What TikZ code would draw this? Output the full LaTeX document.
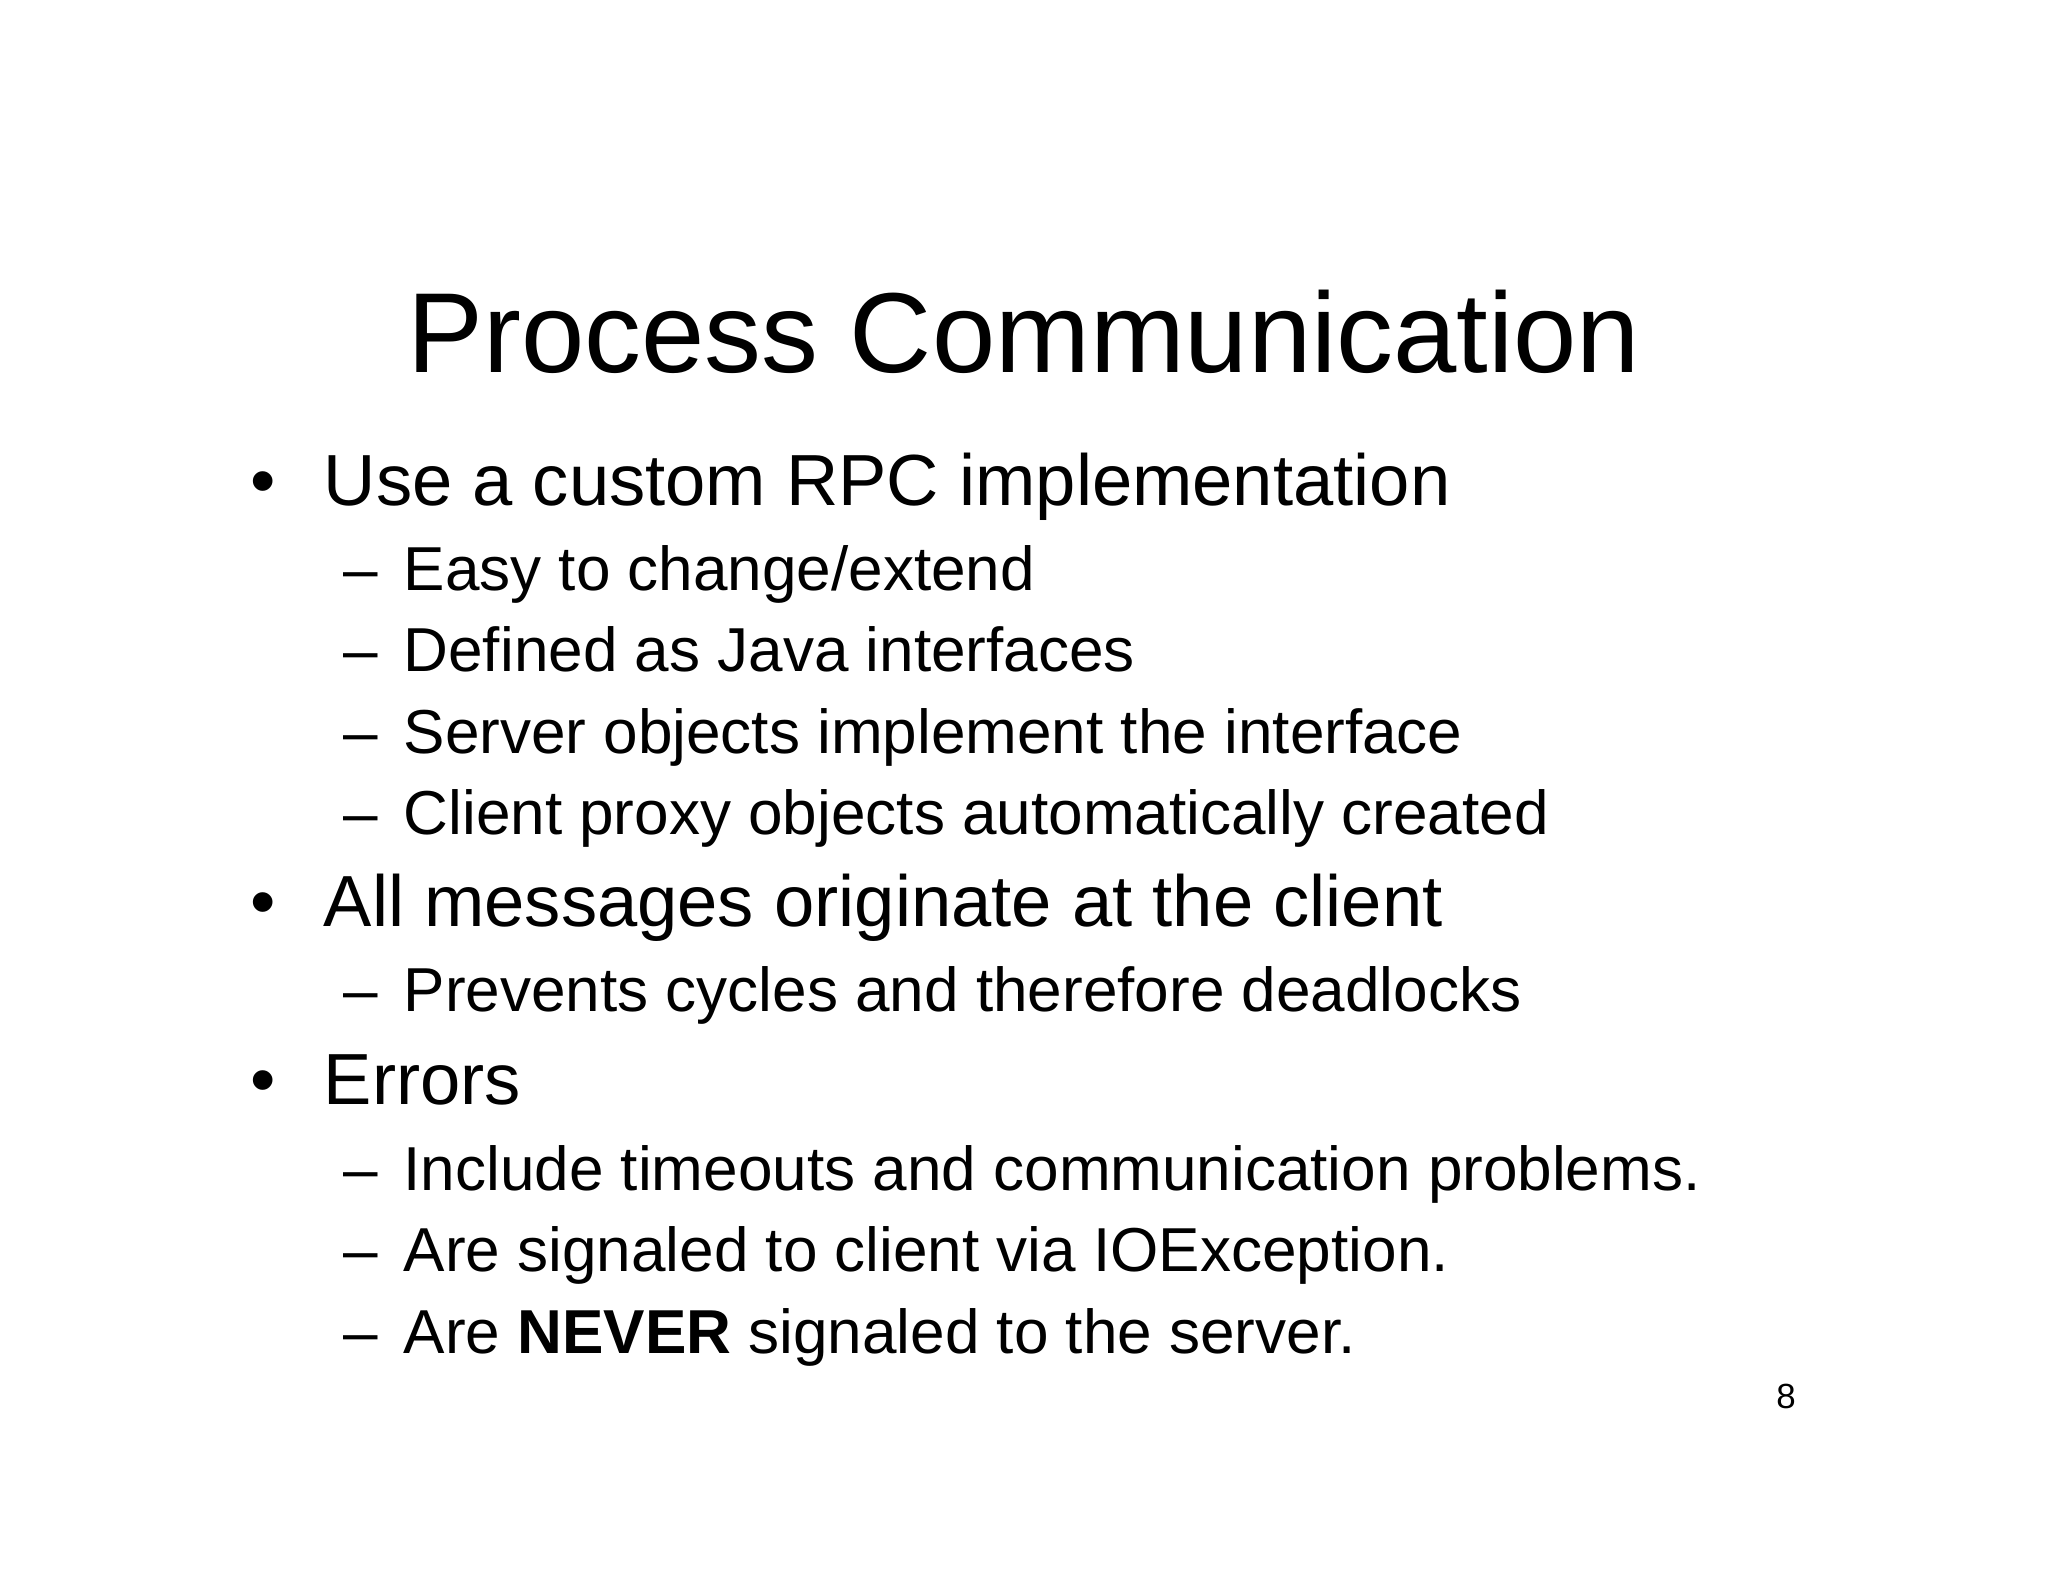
\documentclass[tikz,border=0pt]{standalone}
\usepackage{fontspec}
\setmainfont{Liberation Sans}
\begin{document}
\begin{tikzpicture}[x=1pt,y=-1pt,
  every node/.style={inner sep=0pt,outer sep=0pt,anchor=base west},
  titletext/.style={font=\fontsize{44}{44}\selectfont,anchor=base},
  lone/.style={font=\fontsize{28}{28}\selectfont},
  ltwo/.style={font=\fontsize{24}{24}\selectfont},
  pagenum/.style={font=\fontsize{13.5}{13.5}\selectfont,anchor=base}]
\useasboundingbox[fill=white] (0,0) rectangle (792,612);
\node[titletext] (title) at (396,144.2) {Process Communication};
% level 1
\node[lone] (b1) at (97,195.3) {•};
\node[lone] (t1) at (125.2,195.3) {Use a custom RPC implementation};
\node[ltwo] (d11) at (132.8,228.2) {–};
\node[ltwo] (t11) at (156.1,228.2) {Easy to change/extend};
\node[ltwo] (d12) at (132.8,259.8) {–};
\node[ltwo] (t12) at (156.1,259.8) {Defined as Java interfaces};
\node[ltwo] (d13) at (132.8,291.3) {–};
\node[ltwo] (t13) at (156.1,291.3) {Server objects implement the interface};
\node[ltwo] (d14) at (132.8,322.9) {–};
\node[ltwo] (t14) at (156.1,322.9) {Client proxy objects automatically created};
\node[lone] (b2) at (97,358.4) {•};
\node[lone] (t2) at (125.2,358.4) {All messages originate at the client};
\node[ltwo] (d21) at (132.8,391.2) {–};
\node[ltwo] (t21) at (156.1,391.2) {Prevents cycles and therefore deadlocks};
\node[lone] (b3) at (97,427.3) {•};
\node[lone] (t3) at (125.2,427.3) {Errors};
\node[ltwo] (d31) at (132.8,460.2) {–};
\node[ltwo] (t31) at (156.1,460.2) {Include timeouts and communication problems.};
\node[ltwo] (d32) at (132.8,491.8) {–};
\node[ltwo] (t32) at (156.1,491.8) {Are signaled to client via IOException.};
\node[ltwo] (d33) at (132.8,523.3) {–};
\node[ltwo] (t33) at (156.1,523.3) {Are \textbf{NEVER} signaled to the server.};
\node[pagenum] (pn) at (690.7,544.5) {8};
\end{tikzpicture}
\end{document}
